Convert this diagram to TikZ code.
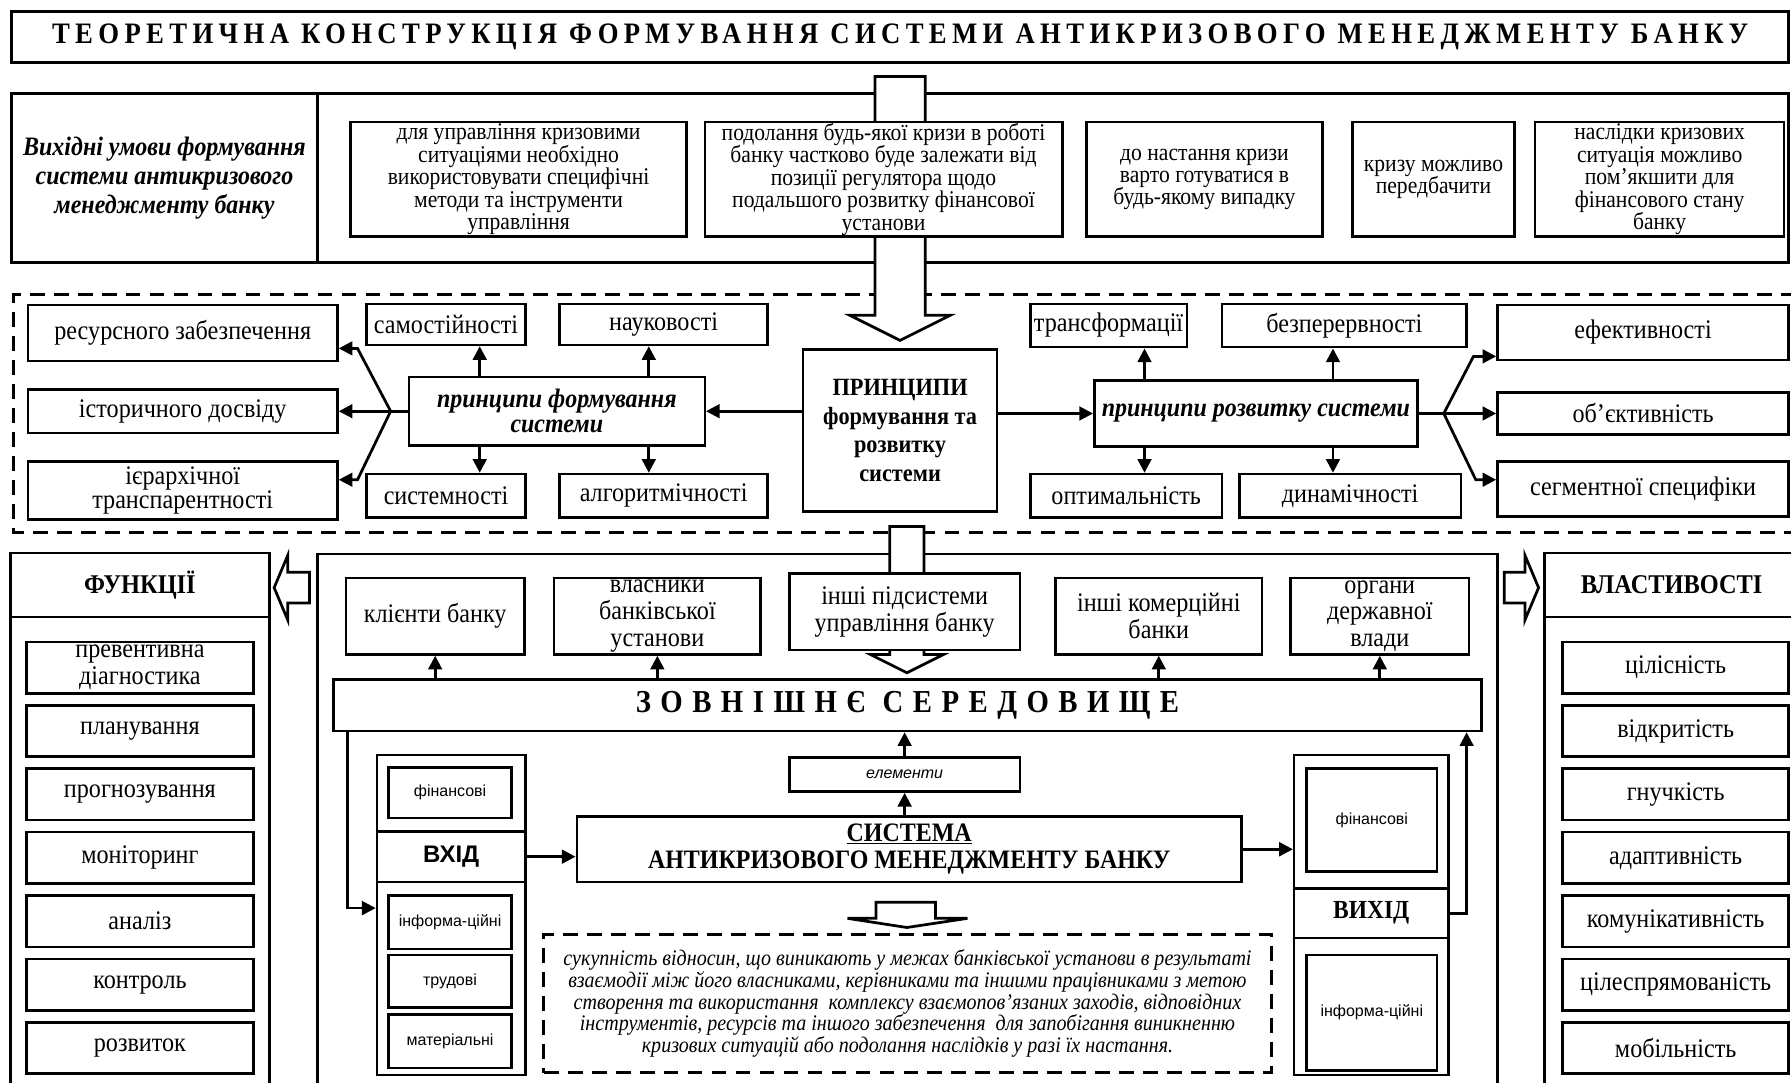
\documentclass[tikz,border=0pt]{standalone}
\usepackage{fontspec}
\setmainfont{Liberation Serif}[FakeStretch=0.9]
\setsansfont{Liberation Sans}
\usetikzlibrary{arrows.meta}

\newcommand\fsTitle{\fontsize{26}{28}\selectfont\bfseries\addfontfeature{LetterSpace=18}}
\newcommand\fsEnv{\fontsize{28}{30}\selectfont\bfseries\addfontfeature{LetterSpace=29.6}}
\newcommand\fsHead{\fontsize{23.3}{25}\selectfont\bfseries\itshape}
\newcommand\fsCond{\fontsize{21}{19.6}\selectfont}
\newcommand\fsPrin{\fontsize{21.7}{25}\selectfont\bfseries}
\newcommand\fsGroup{\fontsize{23.3}{22}\selectfont\bfseries\itshape}
\newcommand\fsItem{\fontsize{23.5}{21}\selectfont}
\newcommand\fsTwo{\fontsize{23.5}{23.5}\selectfont}
\newcommand\fsCap{\fontsize{23.7}{25}\selectfont\bfseries}
\newcommand\fsSmall{\fontsize{14}{16}\selectfont\sffamily}
\newcommand\fsDesc{\fontsize{19.5}{19}\selectfont\itshape}

\tikzset{
    box/.style = {draw, line width = 2.2pt, fill = white, align = center, inner sep = 0pt},
    sz/.style 2 args = {minimum width = #1pt, minimum height = #2pt},
    arr/.style = {line width = 2.4pt, -{Triangle[length = 12pt, width = 12pt]}},
    link/.style = {line width = 2.4pt},
    hollow/.style = {draw, line width = 2.4pt, fill = white, line join = miter},
    dashframe/.style = {draw, line width = 2.4pt, dash pattern = on 13pt off 8pt}
}

\begin{document}
\begin{tikzpicture}[x = 1pt, y = -1pt]
    \useasboundingbox (0,0) rectangle (1568,948);

    \node[box, sz = {1556}{45}, line width = 2.6pt, font = \fsTitle] (title) at (788,32.5)
        {ТЕОРЕТИЧНА КОНСТРУКЦІЯ ФОРМУВАННЯ СИСТЕМИ АНТИКРИЗОВОГО МЕНЕДЖМЕНТУ БАНКУ};

    \node[box, sz = {268}{148}, font = \fsHead] (hdr) at (144,156)
        {Вихідні умови формування\\системи антикризового\\менеджменту банку};
    \node[box, sz = {1288}{148}] (conds) at (922,156) {};

    \draw[dashframe] (1572,258) -- (12,258) -- (12,466) -- (1572,466);

    \draw[hollow] (766,67) -- (810,67) -- (810,276) -- (832,276) -- (788,298)
        -- (744,276) -- (766,276) -- cycle;

    \node[box, sz = {294}{100}, font = \fsCond] (c1) at (454,157)
        {для управління кризовими\\ситуаціями необхідно\\використовувати специфічні\\методи та інструменти\\управління};
    \node[box, sz = {313}{100}, font = \fsCond] (c2) at (773.5,157)
        {подолання будь-якої кризи в роботі\\банку частково буде залежати від\\позиції регулятора щодо\\подальшого розвитку фінансової\\установи};
    \node[box, sz = {207}{100}, font = \fsCond] (c3) at (1054.5,157)
        {до настання кризи\\варто готуватися в\\будь-якому випадку};
    \node[box, sz = {142}{100}, font = \fsCond] (c4) at (1255,157)
        {кризу можливо\\передбачити};
    \node[box, sz = {218}{100}, font = \fsCond] (c5) at (1453,157)
        {наслідки кризових\\ситуація можливо\\пом’якшити для\\фінансового стану\\банку};

    \node[box, sz = {170}{142}, font = \fsPrin] (prin) at (788,377)
        {ПРИНЦИПИ\\формування та\\розвитку\\системи};
    \node[box, sz = {259}{60}, font = \fsGroup] (form) at (487.5,360)
        {принципи формування\\системи};
    \node[box, sz = {283}{58}, font = \fsGroup] (dev) at (1099.5,362)
        {принципи розвитку системи};

    \node[box, sz = {271}{49}, font = \fsItem] (res) at (160,291.5) {ресурсного забезпечення};
    \node[box, sz = {271}{38}, font = \fsItem] (hist) at (160,360) {історичного досвіду};
    \node[box, sz = {271}{51}, font = \fsItem] (ier) at (160,429.5) {ієрархічної\\транспарентності};
    \node[box, sz = {139}{36}, font = \fsItem] (samo) at (390.5,284) {самостійності};
    \node[box, sz = {182}{36}, font = \fsItem] (nauk) at (581,284) {науковості};
    \node[box, sz = {139}{38}, font = \fsItem] (sist) at (390.5,434) {системності};
    \node[box, sz = {182}{38}, font = \fsItem] (algo) at (581,434) {алгоритмічності};

    \node[box, sz = {137}{38}, font = \fsItem] (tran) at (970.5,285) {трансформації};
    \node[box, sz = {214}{38}, font = \fsItem] (bezp) at (1177,285) {безперервності};
    \node[box, sz = {168}{38}, font = \fsItem] (opt) at (986,434) {оптимальність};
    \node[box, sz = {194}{38}, font = \fsItem] (dyn) at (1182,434) {динамічності};
    \node[box, sz = {255}{48}, font = \fsItem] (efek) at (1438.5,291) {ефективності};
    \node[box, sz = {255}{37}, font = \fsItem] (obj) at (1438.5,362) {об’єктивність};
    \node[box, sz = {255}{48}, font = \fsItem] (segm) at (1438.5,428) {сегментної специфіки};

    \coordinate (g1) at (420,0);
    \coordinate (g2) at (568,0);
    \coordinate (g3) at (1002,0);
    \coordinate (g4) at (1167,0);
    \coordinate (jl) at (342,360);
    \coordinate (jr) at (1264,362);

    \draw[arr] (prin.west |- form.east) -- (form.east);
    \draw[arr] (prin.east |- dev.west) -- (dev.west);
    \draw[arr] (g1 |- form.north) -- (g1 |- samo.south);
    \draw[arr] (g2 |- form.north) -- (g2 |- nauk.south);
    \draw[arr] (g1 |- form.south) -- (g1 |- sist.north);
    \draw[arr] (g2 |- form.south) -- (g2 |- algo.north);
    \draw[arr] (g3 |- dev.north) -- (g3 |- tran.south);
    \draw[arr] (g4 |- dev.north) -- (g4 |- bezp.south);
    \draw[arr] (g3 |- dev.south) -- (g3 |- opt.north);
    \draw[arr] (g4 |- dev.south) -- (g4 |- dyn.north);
    \draw[arr] (form.west) -- (hist.east);
    \draw[arr] (jl) -- (313,305) -- (res.east |- 0,305);
    \draw[arr] (jl) -- (313,420) -- (ier.east |- 0,420);
    \draw[arr] (dev.east) -- (obj.west);
    \draw[arr] (jr) -- (1290,312) -- (efek.west |- 0,312);
    \draw[arr] (jr) -- (1292,420) -- (segm.west |- 0,420);

    \node[box, sz = {227}{420}] (funcb) at (122.5,750) {};
    \node[box, sz = {227}{56}, font = \fsCap] (funch) at (122.5,512) {ФУНКЦІЇ};
    \node[box, sz = {199}{45}, font = \fsTwo] (f1) at (122.5,584.5) {превентивна\\діагностика};
    \node[box, sz = {199}{45}, font = \fsItem] (f2) at (122.5,640) {планування};
    \node[box, sz = {199}{45}, font = \fsItem] (f3) at (122.5,695.5) {прогнозування};
    \node[box, sz = {199}{45}, font = \fsItem] (f4) at (122.5,751) {моніторинг};
    \node[box, sz = {199}{45}, font = \fsItem] (f5) at (122.5,806.5) {аналіз};
    \node[box, sz = {199}{45}, font = \fsItem] (f6) at (122.5,862) {контроль};
    \node[box, sz = {199}{45}, font = \fsItem] (f7) at (122.5,917.5) {розвиток};

    \node[box, sz = {223}{420}] (propb) at (1463.5,750) {};
    \node[box, sz = {223}{56}, font = \fsCap] (proph) at (1463.5,512) {ВЛАСТИВОСТІ};
    \node[box, sz = {198}{45}, font = \fsItem] (p1) at (1467,584.5) {цілісність};
    \node[box, sz = {198}{45}, font = \fsItem] (p2) at (1467,640) {відкритість};
    \node[box, sz = {198}{45}, font = \fsItem] (p3) at (1467,695.5) {гнучкість};
    \node[box, sz = {198}{45}, font = \fsItem] (p4) at (1467,751) {адаптивність};
    \node[box, sz = {198}{45}, font = \fsItem] (p5) at (1467,806.5) {комунікативність};
    \node[box, sz = {198}{45}, font = \fsItem] (p6) at (1467,862) {цілеспрямованість};
    \node[box, sz = {198}{45}, font = \fsItem] (p7) at (1467,917.5) {мобільність};

    \node[box, sz = {1033}{475}, line width = 2.6pt] (core) at (794.5,722.5) {};

    \draw[hollow] (240,514.5) -- (252,486) -- (252,501) -- (271,501) -- (271,528)
        -- (252,528) -- (252,543) -- cycle;
    \draw[hollow] (1347,514.5) -- (1335,486) -- (1335,501) -- (1317,501) -- (1317,528)
        -- (1335,528) -- (1335,543) -- cycle;
    \draw[hollow] (779,461) -- (809,461) -- (809,573) -- (826,573) -- (794,589)
        -- (762,573) -- (779,573) -- cycle;

    \node[box, sz = {156}{67}, font = \fsTwo] (klie) at (381,539.5) {клієнти банку};
    \node[box, sz = {181}{67}, font = \fsTwo] (vlas) at (575.5,539.5) {власники\\банківської\\установи};
    \node[box, sz = {202}{67}, font = \fsTwo] (insh) at (792,535.5) {інші підсистеми\\управління банку};
    \node[box, sz = {181}{67}, font = \fsTwo] (kome) at (1014.5,539.5) {інші комерційні\\банки};
    \node[box, sz = {156}{67}, font = \fsTwo] (orga) at (1208,539.5) {органи\\державної\\влади};

    \node[box, sz = {1005}{45}, font = \fsEnv] (env) at (794.5,617.5) {ЗОВНІШНЄ СЕРЕДОВИЩЕ};

    \draw[arr] (env.north -| klie.south) -- (klie.south);
    \draw[arr] (env.north -| vlas.south) -- (vlas.south);
    \draw[arr] (env.north -| kome.south) -- (kome.south);
    \draw[arr] (env.north -| orga.south) -- (orga.south);

    \node[box, sz = {130}{280}] (inp) at (395,801) {};
    \node[box, sz = {130}{44}, font = \fontsize{21}{23}\selectfont\sffamily\bfseries] (vhid) at (395,750) {ВХІД};
    \node[box, sz = {108}{44}, font = \fsSmall] (in1) at (394,694) {фінансові};
    \node[box, sz = {108}{47}, font = \fsSmall] (in2) at (394,807.5) {інформа-ційні};
    \node[box, sz = {108}{46}, font = \fsSmall] (in3) at (394,859) {трудові};
    \node[box, sz = {108}{47}, font = \fsSmall] (in4) at (394,911.5) {матеріальні};

    \node[box, sz = {582}{57}, font = \fontsize{23.3}{24}\selectfont\bfseries] (sys) at (796,743.5)
        {\underline{СИСТЕМА}\\АНТИКРИЗОВОГО МЕНЕДЖМЕНТУ БАНКУ};
    \node[box, sz = {202}{30}, font = \fontsize{14}{16}\selectfont\sffamily\itshape] (elem) at (792,678) {елементи};

    \draw[arr] (sys.north -| elem.south) -- (elem.south);
    \draw[arr] (elem.north) -- (elem.north |- env.south);

    \draw[hollow] (767,790) -- (819,790) -- (819,804) -- (847,804) -- (794,812)
        -- (742,804) -- (767,804) -- cycle;

    \node[dashframe, sz = {637}{121}, align = center, inner sep = 0pt, font = \fsDesc] (desc) at (794.5,878.5)
        {сукупність відносин, що виникають у межах банківської установи в результаті\\взаємодії між його власниками, керівниками та іншими працівниками з метою\\створення та використання\ \ комплексу взаємопов’язаних заходів, відповідних\\інструментів, ресурсів та іншого забезпечення\ \ для запобігання виникненню\\кризових ситуацій або подолання наслідків у разі їх настання.};

    \node[box, sz = {135}{280}] (outp) at (1200.5,801) {};
    \node[box, sz = {135}{43}, font = \fontsize{22.8}{24}\selectfont\bfseries] (vyh) at (1200.5,799.5) {ВИХІД};
    \node[box, sz = {114}{90}, font = \fsSmall] (out1) at (1201,718) {фінансові};
    \node[box, sz = {114}{101}, font = \fsSmall] (out2) at (1201,886.5) {інформа-ційні};

    \draw[arr] (vhid.east) -- (vhid.east -| sys.west);
    \draw[arr] (sys.east) -- (sys.east -| outp.west);
    \draw[arr] (env.south -| 304,0) |- (inp.west |- 0,795);
    \draw[arr] (vyh.east) -| (1284,0 |- env.south);
\end{tikzpicture}
\end{document}
